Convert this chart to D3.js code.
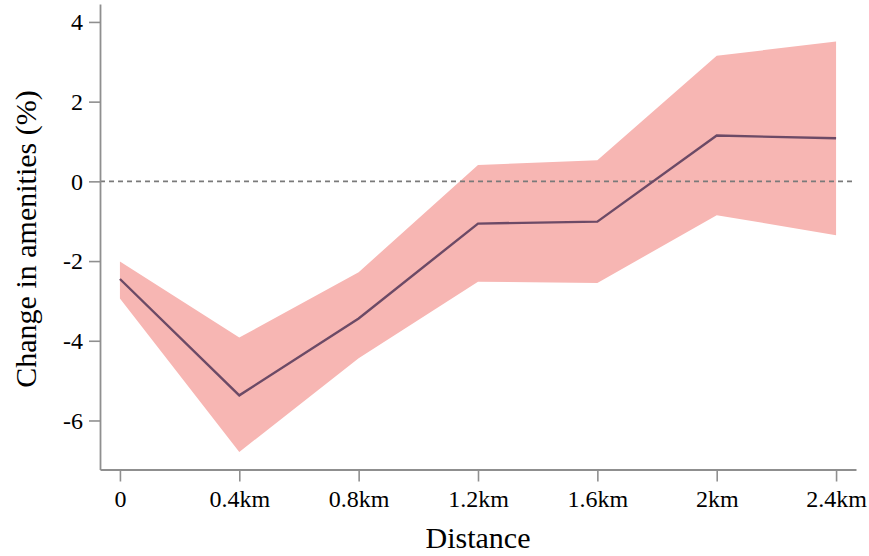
<!DOCTYPE html>
<html>
<head>
<meta charset="utf-8">
<script src="https://cdn.jsdelivr.net/npm/d3@7"></script>
<style>
  body { margin: 0; background: #fff; }
  svg { display: block; }
</style>
</head>
<body>
<div id="container"></div>
<script>
// distances (x categories)
const distLabels = ["0", "0.4km", "0.8km", "1.2km", "1.6km", "2km", "2.4km"];
// point estimate and confidence band
const estimate = [-2.45, -5.37, -3.44, -1.06, -1.01, 1.15, 1.08];
const upper = [-2.01, -3.92, -2.28, 0.41, 0.53, 3.15, 3.51];
const lower = [-2.94, -6.79, -4.44, -2.52, -2.55, -0.85, -1.35];
const yTicks = [-6, -4, -2, 0, 2, 4];

const width = 869;
const height = 556;
const font = "'Liberation Serif', 'Times New Roman', serif";
const axisColor = "#8f8f8f";

const svg = d3.select("#container").append("svg")
  .attr("width", width)
  .attr("height", height);

const x = d3.scalePoint()
  .domain(distLabels)
  .range([100, 856])
  .padding(0.167);

const y = d3.scaleLinear()
  .domain([-7.23, 4.45])
  .range([469.5, 4]);

const rows = distLabels.map((d, i) => ({ d, est: estimate[i], hi: upper[i], lo: lower[i] }));

// confidence band
svg.append("path")
  .datum(rows)
  .attr("fill", "#f7b6b3")
  .attr("d", d3.area()
    .x(r => x(r.d))
    .y0(r => y(r.lo))
    .y1(r => y(r.hi)));

// zero reference line
svg.append("line")
  .attr("x1", 100)
  .attr("x2", 856)
  .attr("y1", y(0))
  .attr("y2", y(0))
  .attr("stroke", "#7a7a7a")
  .attr("stroke-width", 1.6)
  .attr("stroke-dasharray", "5,4");

// estimate line
svg.append("path")
  .datum(rows)
  .attr("fill", "none")
  .attr("stroke", "#6c4a66")
  .attr("stroke-width", 2.4)
  .attr("d", d3.line()
    .x(r => x(r.d))
    .y(r => y(r.est)));

// axes
const xAxis = svg.append("g")
  .attr("transform", `translate(0,${y.range()[0]})`)
  .call(d3.axisBottom(x).tickSizeInner(12).tickSizeOuter(0).tickPadding(8));

const yAxis = svg.append("g")
  .attr("transform", "translate(100,0)")
  .call(d3.axisLeft(y).tickValues(yTicks).tickFormat(d => String(d))
    .tickSizeInner(11).tickSizeOuter(0).tickPadding(6));

[xAxis, yAxis].forEach(g => {
  g.select(".domain").attr("stroke", axisColor).attr("stroke-width", 1.8);
  g.selectAll(".tick line").attr("stroke", axisColor).attr("stroke-width", 1.6);
  g.selectAll(".tick text")
    .attr("fill", "#000")
    .attr("font-family", font)
    .attr("font-size", 24);
});

// axis titles
svg.append("text")
  .text("Distance")
  .attr("x", 478)
  .attr("y", 548)
  .attr("text-anchor", "middle")
  .attr("font-family", font)
  .attr("font-size", 30);

svg.append("text")
  .text("Change in amenities (%)")
  .attr("transform", "translate(36,239) rotate(-90)")
  .attr("text-anchor", "middle")
  .attr("font-family", font)
  .attr("font-size", 30);
</script>
</body>
</html>
